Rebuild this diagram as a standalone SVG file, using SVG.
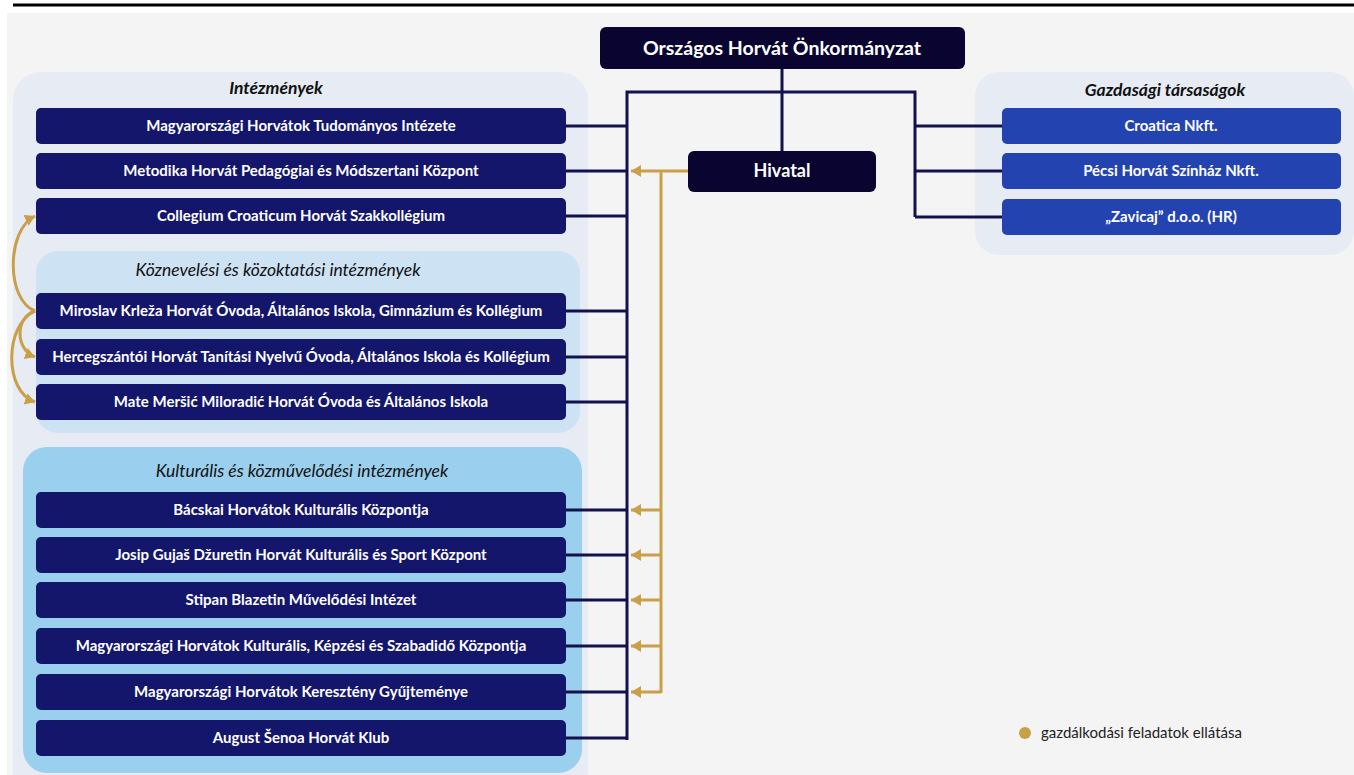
<svg xmlns="http://www.w3.org/2000/svg" width="1354" height="775" viewBox="0 0 1354 775">
  <style>
    .bg { fill: #f4f4f4; }
    .grp { fill: #e6ebf4; }
    .kozn { fill: #cde2f3; }
    .kult { fill: #9bcfee; }
    .top { fill: #0a0530; }
    .box { fill: #13166a; }
    .cbox { fill: #2343b1; }
    .lbl { font-family: Lato, "Liberation Sans", sans-serif; font-weight: bold; font-size: 15px; fill: #ffffff; text-anchor: middle; }
    .big { font-family: Lato, "Liberation Sans", sans-serif; font-weight: bold; font-size: 18px; fill: #ffffff; text-anchor: middle; }
    .ttl { font-family: Lato, "Liberation Sans", sans-serif; font-style: italic; font-weight: bold; font-size: 17.5px; fill: #111111; text-anchor: middle; }
    .sub { font-family: Lato, "Liberation Sans", sans-serif; font-style: italic; font-size: 17.5px; fill: #111111; text-anchor: middle; }
    .leg { font-family: Lato, "Liberation Sans", sans-serif; font-size: 15px; fill: #222222; }
    .nv { fill: none; stroke: #12114c; stroke-width: 3; }
    .gd { fill: none; stroke: #c9a048; stroke-width: 3; }
  </style>
  <defs>
    <marker id="ah" markerUnits="userSpaceOnUse" markerWidth="12" markerHeight="12" refX="10" refY="6" orient="auto">
      <path d="M0,0 L10,6 L0,12 Z" fill="#c9a048"/>
    </marker>
  </defs>

  <rect x="0" y="0" width="1354" height="775" fill="#ffffff"/>
  <rect class="bg" x="7" y="13" width="1347" height="762"/>
  <line x1="13" y1="5" x2="1354" y2="5" stroke="#000000" stroke-width="3"/>

  <!-- containers -->
  <g id="grp-intezmenyek">
    <rect class="grp" x="13" y="72" width="575" height="730" rx="28"/>
    <text class="ttl" x="276" y="94">Intézmények</text>
  </g>
  <g id="grp-koznevelesi">
    <rect class="kozn" x="36" y="251" width="544" height="182" rx="22"/>
    <text class="sub" x="278" y="276">Köznevelési és közoktatási intézmények</text>
  </g>
  <g id="grp-kulturalis">
    <rect class="kult" x="23" y="447" width="559" height="326" rx="24"/>
    <text class="sub" x="302" y="477">Kulturális és közművelődési intézmények</text>
  </g>
  <g id="grp-gazdasagi">
    <rect class="grp" x="975" y="72" width="379" height="183" rx="24"/>
    <text class="ttl" x="1165" y="96">Gazdasági társaságok</text>
  </g>

  <!-- connectors -->
  <g id="connectors">
    <path class="nv" d="M782,69 V151"/>
    <path class="nv" d="M627,740 V92 H915 V217"/>
    <path class="nv" d="M566,126 H627 M566,171 H627 M566,216 H627 M566,311 H627 M566,357 H627 M566,402 H627 M566,510 H627 M566,555 H627 M566,600 H627 M566,646 H627 M566,692 H627 M566,738 H627"/>
    <path class="nv" d="M915,126 H1002 M915,171 H1002 M915,217 H1002"/>
    <path class="gd" d="M661,693 V171"/>
    <path class="gd" d="M688,171 H631" marker-end="url(#ah)"/>
    <path class="gd" d="M661,510 H631" marker-end="url(#ah)"/>
    <path class="gd" d="M661,555 H631" marker-end="url(#ah)"/>
    <path class="gd" d="M661,600 H631" marker-end="url(#ah)"/>
    <path class="gd" d="M661,646 H631" marker-end="url(#ah)"/>
    <path class="gd" d="M661,692 H631" marker-end="url(#ah)"/>
    <path class="gd" d="M35,311 C6,300 6,230 35,216" marker-end="url(#ah)"/>
    <path class="gd" d="M35,311 C14,318 16,350 35,357" marker-end="url(#ah)"/>
    <path class="gd" d="M35,311 C4,325 4,392 35,402" marker-end="url(#ah)"/>
  </g>

  <!-- top nodes -->
  <g id="n-orszagos">
    <rect class="top" x="600" y="27" width="365" height="42" rx="6"/>
    <text class="big" x="782" y="55" style="font-size:19.5px">Országos Horvát Önkormányzat</text>
  </g>
  <g id="n-hivatal">
    <rect class="top" x="688" y="151" width="188" height="41" rx="6"/>
    <text class="big" x="782" y="177">Hivatal</text>
  </g>

  <!-- institutions -->
  <g id="n-tudomanyos"><rect class="box" x="36" y="108" width="530" height="36" rx="5"/><text class="lbl" x="301" y="131">Magyarországi Horvátok Tudományos Intézete</text></g>
  <g id="n-metodika"><rect class="box" x="36" y="153" width="530" height="36" rx="5"/><text class="lbl" x="301" y="176">Metodika Horvát Pedagógiai és Módszertani Központ</text></g>
  <g id="n-collegium"><rect class="box" x="36" y="198" width="530" height="36" rx="5"/><text class="lbl" x="301" y="221">Collegium Croaticum Horvát Szakkollégium</text></g>
  <g id="n-miroslav"><rect class="box" x="36" y="293" width="530" height="36" rx="5"/><text class="lbl" x="301" y="316">Miroslav Krleža Horvát Óvoda, Általános Iskola, Gimnázium és Kollégium</text></g>
  <g id="n-hercegszanto"><rect class="box" x="36" y="339" width="530" height="36" rx="5"/><text class="lbl" x="301" y="362">Hercegszántói Horvát Tanítási Nyelvű Óvoda, Általános Iskola és Kollégium</text></g>
  <g id="n-mate"><rect class="box" x="36" y="384" width="530" height="36" rx="5"/><text class="lbl" x="301" y="407">Mate Meršić Miloradić Horvát Óvoda és Általános Iskola</text></g>
  <g id="n-bacskai"><rect class="box" x="36" y="492" width="530" height="36" rx="5"/><text class="lbl" x="301" y="515">Bácskai Horvátok Kulturális Központja</text></g>
  <g id="n-josip"><rect class="box" x="36" y="537" width="530" height="36" rx="5"/><text class="lbl" x="301" y="560">Josip Gujaš Džuretin Horvát Kulturális és Sport Központ</text></g>
  <g id="n-stipan"><rect class="box" x="36" y="582" width="530" height="36" rx="5"/><text class="lbl" x="301" y="605">Stipan Blazetin Művelődési Intézet</text></g>
  <g id="n-kepzesi"><rect class="box" x="36" y="628" width="530" height="36" rx="5"/><text class="lbl" x="301" y="651">Magyarországi Horvátok Kulturális, Képzési és Szabadidő Központja</text></g>
  <g id="n-kereszteny"><rect class="box" x="36" y="674" width="530" height="36" rx="5"/><text class="lbl" x="301" y="697">Magyarországi Horvátok Keresztény Gyűjteménye</text></g>
  <g id="n-senoa"><rect class="box" x="36" y="720" width="530" height="36" rx="5"/><text class="lbl" x="301" y="743">August Šenoa Horvát Klub</text></g>

  <!-- companies -->
  <g id="n-croatica"><rect class="cbox" x="1002" y="108" width="339" height="36" rx="5"/><text class="lbl" x="1171" y="131">Croatica Nkft.</text></g>
  <g id="n-pecsi"><rect class="cbox" x="1002" y="153" width="339" height="36" rx="5"/><text class="lbl" x="1171" y="176">Pécsi Horvát Színház Nkft.</text></g>
  <g id="n-zavicaj"><rect class="cbox" x="1002" y="199" width="339" height="36" rx="5"/><text class="lbl" x="1171" y="222">„Zavicaj” d.o.o. (HR)</text></g>

  <!-- legend -->
  <g id="legend">
    <circle cx="1025" cy="733" r="6" fill="#c9a048"/>
    <text class="leg" x="1041" y="738">gazdálkodási feladatok ellátása</text>
  </g>
</svg>
